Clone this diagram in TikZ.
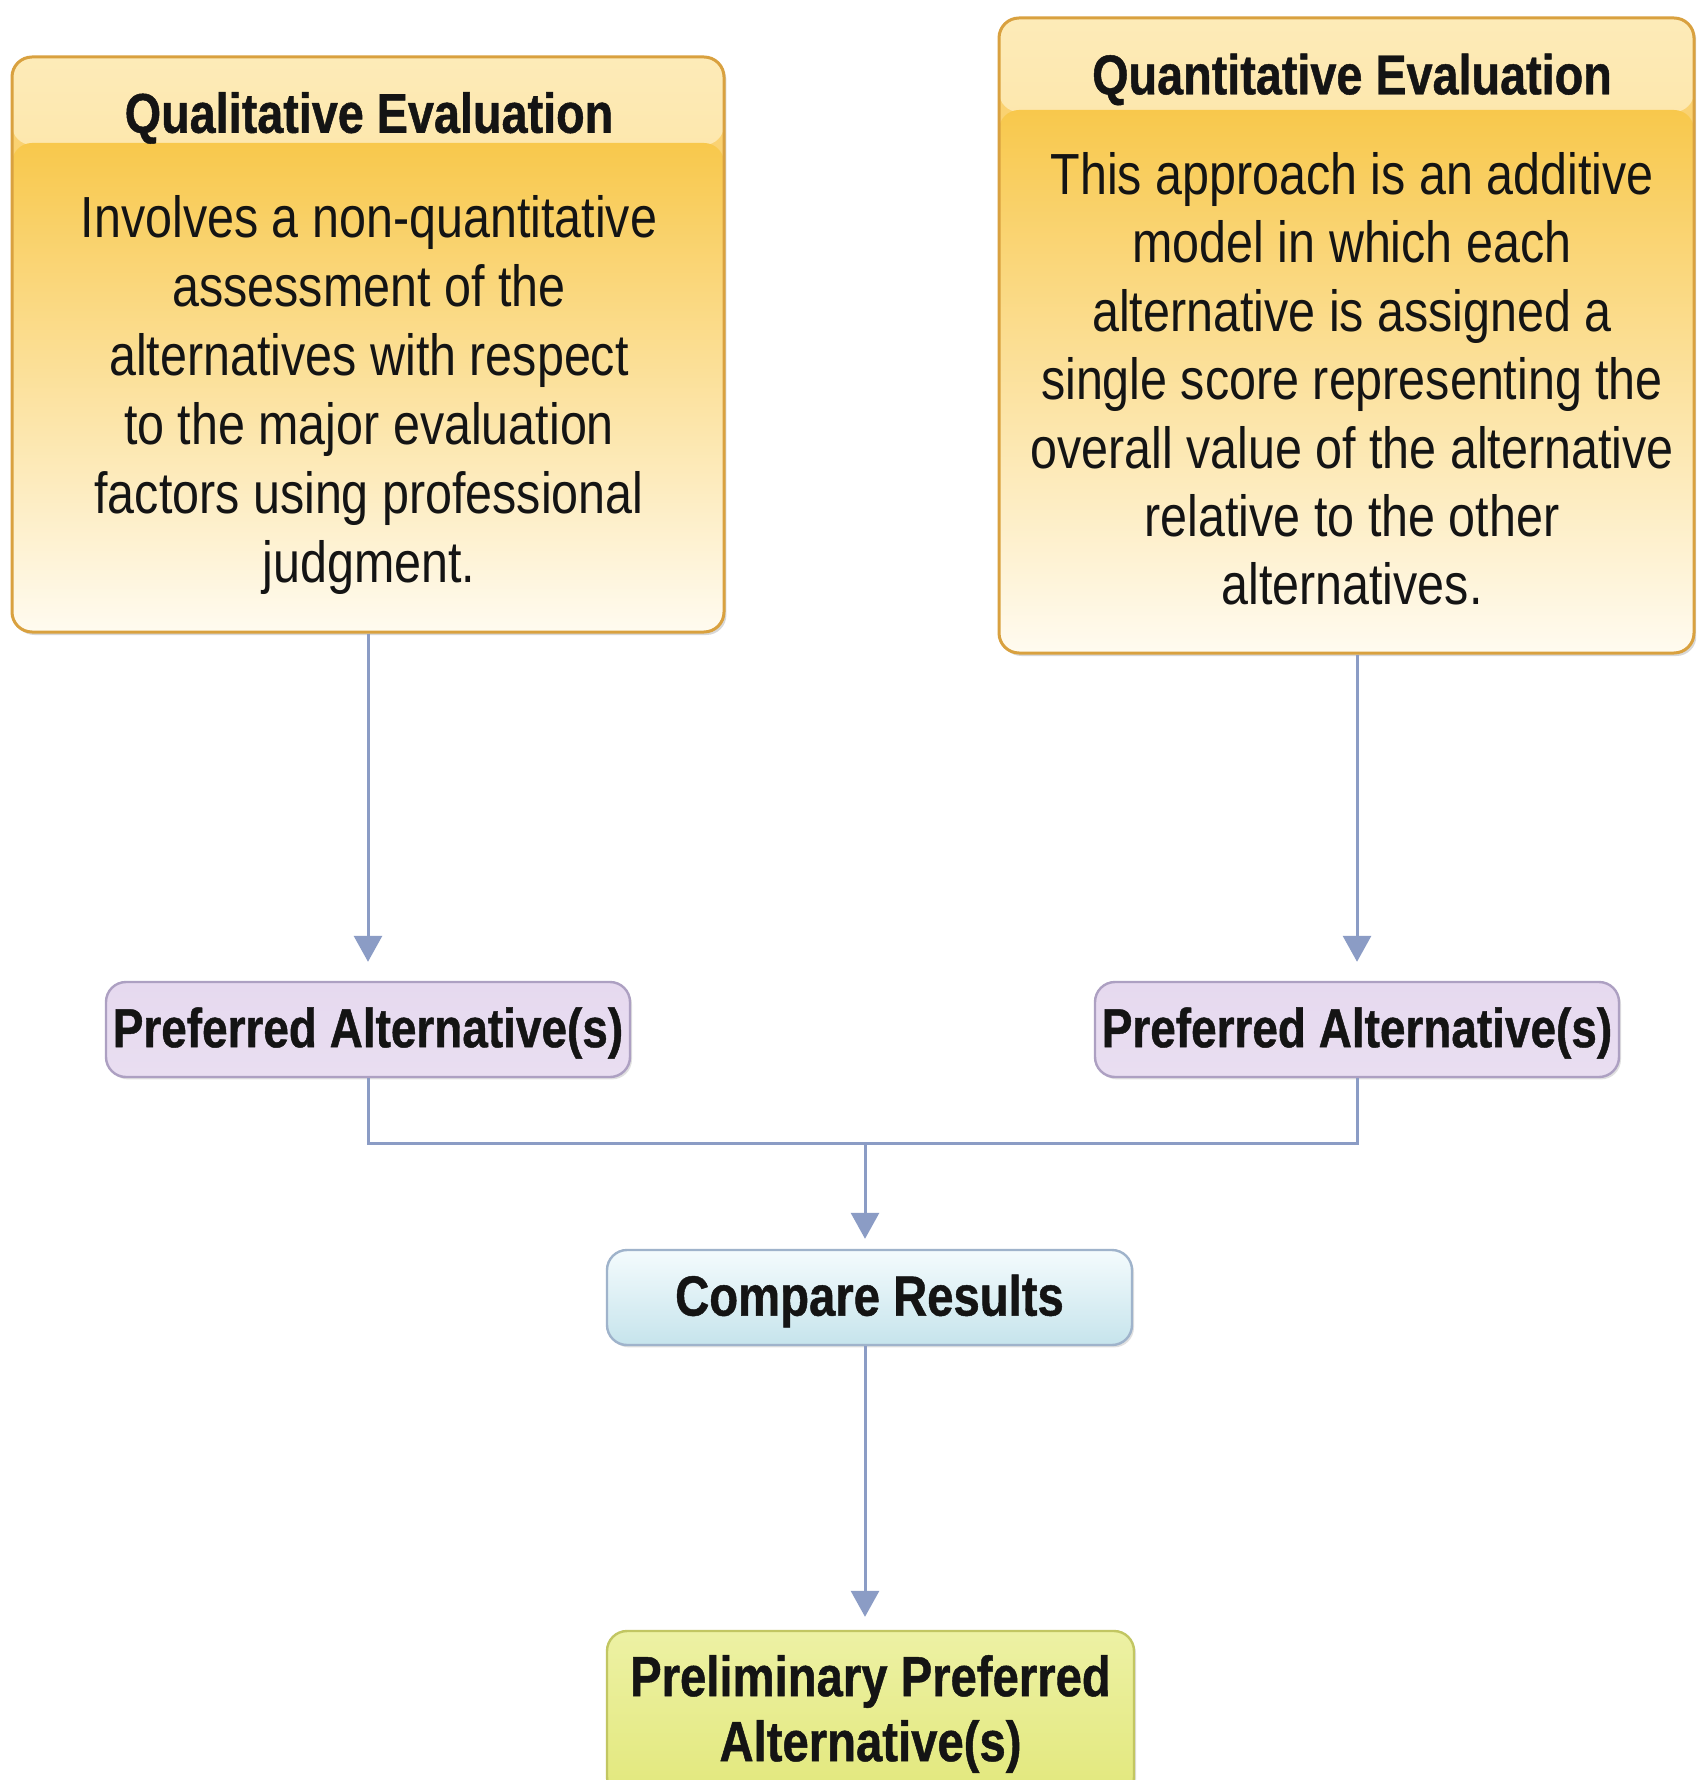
\documentclass[tikz,border=0pt]{standalone}
\usepackage{fontspec}
\setmainfont{Liberation Sans}[FakeStretch=0.835, BoldFeatures={FakeBold=0.8}]
\usetikzlibrary{arrows.meta,shadows,calc}
\definecolor{txt}{HTML}{141414}
\definecolor{bigBorder}{HTML}{D9A13F}
\definecolor{hdrTop}{HTML}{FDEBB8}
\definecolor{hdrBot}{HTML}{FAD272}
\definecolor{bodyTop}{HTML}{F8C84C}
\definecolor{bodyBot}{HTML}{FFFBF0}
\definecolor{paBorder}{HTML}{ADA0C2}
\definecolor{paTop}{HTML}{E6D9EF}
\definecolor{paMid}{HTML}{F7F1FA}
\definecolor{paBot}{HTML}{E9DEF1}
\definecolor{cmpBorder}{HTML}{9FB3CB}
\definecolor{cmpTop}{HTML}{F4FBFD}
\definecolor{cmpBot}{HTML}{C6E4EC}
\definecolor{prBorder}{HTML}{C2C662}
\definecolor{prTop}{HTML}{EDF1A4}
\definecolor{prMid}{HTML}{D6DD48}
\definecolor{prBot}{HTML}{E2E87C}
\definecolor{connC}{HTML}{8B9CC5}
\begin{document}
\begin{tikzpicture}[x=0.5pt,y=-0.5pt,
  bigbox/.style={draw=bigBorder, fill=hdrBot, line width=1.5pt, rounded corners=10pt, inner sep=0pt,
    drop shadow={shadow xshift=1.2pt, shadow yshift=-1.5pt, opacity=0.25, fill=black!60},
    path picture={
      \shade[top color=hdrTop,bottom color=hdrBot] (path picture bounding box.north west) rectangle ([yshift=-#1-1pt]path picture bounding box.north east);
      \shade[top color=bodyTop,bottom color=bodyBot] ([yshift=-#1]path picture bounding box.north west) rectangle (path picture bounding box.south east);
    }},
  smallbox/.style={line width=1.2pt, rounded corners=10pt, inner sep=0pt, text=txt,
    drop shadow={shadow xshift=1pt, shadow yshift=-1.2pt, opacity=0.2, fill=black!60}},
  pabox/.style={smallbox, draw=paBorder, top color=paTop, middle color=paMid, bottom color=paBot,
    minimum width=262pt, minimum height=47.5pt, text height=23.5pt, text depth=5.8pt,
    font=\bfseries\fontsize{27.5}{30}\selectfont},
  cmpbox/.style={smallbox, draw=cmpBorder, top color=cmpTop, bottom color=cmpBot,
    minimum width=262.5pt, minimum height=47.5pt, text height=24pt, text depth=5.9pt,
    font=\bfseries\fontsize{28.3}{30}\selectfont},
  prbox/.style={smallbox, draw=prBorder, top color=prTop, middle color=prMid, bottom color=prBot,
    minimum width=263.5pt, minimum height=83pt, align=center, font=\bfseries\fontsize{28.3}{32.5}\selectfont},
  titletext/.style={inner sep=0pt, text=txt, font=\bfseries\fontsize{28}{30}\selectfont},
  bodytext/.style={inner sep=0pt, text=txt, align=center, font=\fontsize{29}{#1}\selectfont},
  conn/.style={draw=connC, line width=1.5pt},
  arr/.style={conn, -{Triangle[width=14pt,length=13pt]}}
]
\useasboundingbox (0,0) rectangle (1696,1780);
\clip (0,0) rectangle (1696,1780);
\fill[white] (0,0) rectangle (1696,1780);

% big boxes
\node[bigbox=43pt, minimum width=356pt, minimum height=287.5pt] (qlbox) at (368,344.5) {};
\node[bigbox=46pt, minimum width=347.5pt, minimum height=317.5pt] (qrbox) at (1346.5,335.5) {};

\node[titletext] (qltitle) at (369,118) {Qualitative Evaluation};
\node[bodytext=34.5pt] (qlbody) at (369,395) {Involves a non-quantitative\\assessment of the\\alternatives with respect\\to the major evaluation\\factors using professional\\judgment.};

\node[titletext] (qrtitle) at (1352,79.5) {Quantitative Evaluation};
\node[bodytext=34.2pt] (qrbody) at (1352,379) {This approach is an additive\\model in which each\\alternative is assigned a\\single score representing the\\overall value of the alternative\\relative to the other\\alternatives.};

% small boxes
\node[pabox] (pa1) at (368,1029.5) {Preferred Alternative(s)};
\node[pabox] (pa2) at (1357,1029.5) {Preferred Alternative(s)};
\node[cmpbox] (cmp) at (869.5,1297.5) {Compare Results};
\node[prbox] (prelim) at (870.5,1714) {Preliminary Preferred\\Alternative(s)};

% connectors
\coordinate (join) at (865,1143);
\draw[arr, shorten >=9.5pt] (qlbox.south) -- (qlbox.south |- pa1.north);
\draw[arr, shorten >=9.5pt] (pa2.north |- qrbox.south) -- (pa2.north);
\draw[conn] (pa1.south) |- (join) -| (pa2.south);
\draw[arr, shorten >=5pt] (join) -- (join |- cmp.north);
\draw[arr, shorten >=6.5pt] (join |- cmp.south) -- (join |- prelim.north);
\end{tikzpicture}
\end{document}
